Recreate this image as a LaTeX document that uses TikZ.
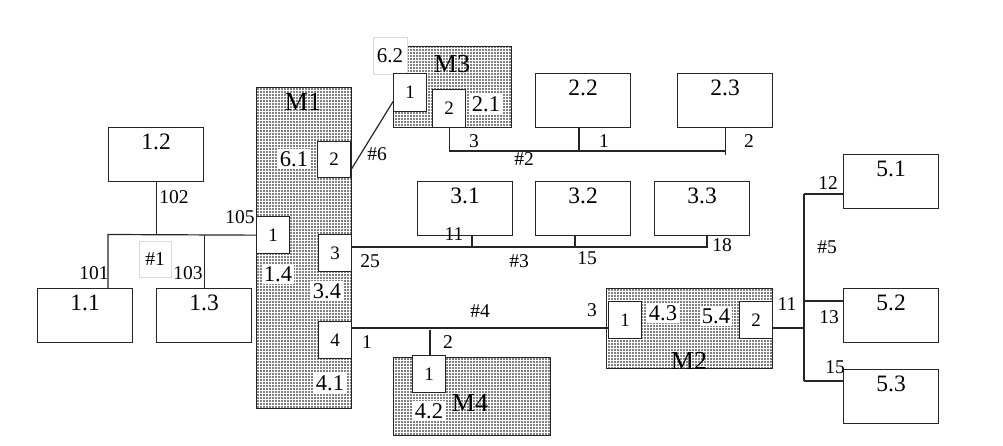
\documentclass[tikz,border=0pt]{standalone}
\usepackage{fontspec}
\setmainfont{Liberation Serif}
\usetikzlibrary{patterns.meta}
\begin{document}
\begin{tikzpicture}[x=1pt,y=-1pt,
  box/.style={draw=black!85, line width=1.3pt, fill=white, minimum width=95pt, minimum height=54pt, inner sep=0pt, anchor=north west},
  mod/.style={draw=black!85, line width=1.3pt, pattern={Dots[distance=3pt,radius=0.8pt]}, pattern color=black, inner sep=0pt, anchor=north west},
  port/.style={draw=black!85, line width=1.3pt, fill=white, minimum width=33pt, minimum height=37pt, inner sep=0pt, anchor=north west, font=\fontsize{19}{19}\selectfont},
  side/.style={fill=white, inner sep=2pt, font=\fontsize{22.5}{22.5}\selectfont},
  mlab/.style={inner sep=0pt, font=\fontsize{26}{26}\selectfont},
  num/.style={inner sep=0pt, font=\fontsize{19.5}{19.5}\selectfont},
  gbox/.style={draw=black!15, line width=0.6pt, fill=white, inner sep=0pt, font=\fontsize{21}{21}\selectfont},
  wire/.style={draw=black!85, line width=1.2pt},
  bl/.style={label={[anchor=north, yshift=-3pt, font=\fontsize{23.5}{23.5}\selectfont]north:#1}}
]
\useasboundingbox (0,0) rectangle (1003,446);
% modules
\node[mod, minimum width=95pt, minimum height=321pt] (M1) at (256,87) {};
\node[mod, minimum width=118pt, minimum height=81pt] (M3) at (393,46) {};
\node[mod, minimum width=157pt, minimum height=78pt] (M4) at (393,357) {};
\node[mod, minimum width=166pt, minimum height=80pt] (M2) at (606,288) {};
\node[mlab] (M1t) at (303,102) {M1};
\node[mlab] (M3t) at (452,64) {M3};
\node[mlab] (M4t) at (470,403) {M4};
\node[mlab] (M2t) at (689,361) {M2};
% side labels
\node[side] (l61) at (294,159) {6.1};
\node[side] (l14) at (278,274) {1.4};
\node[side] (l34) at (327,291) {3.4};
\node[side] (l41) at (330,383) {4.1};
\node[side] (l21) at (486,104) {2.1};
\node[side] (l42) at (429,411) {4.2};
\node[side] (l43) at (663,313) {4.3};
\node[side] (l54) at (716,316) {5.4};
\node[gbox, minimum width=34pt, minimum height=37pt] (l62) at (390,55.5) {6.2};
% ports
\node[port] (p14) at (256,216) {1};
\node[port, minimum height=36pt] (p61) at (317,141) {2};
\node[port] (p34) at (318,234) {3};
\node[port] (p41) at (318,321) {4};
\node[port, minimum height=38pt] (p62) at (393,73) {1};
\node[port, minimum height=38pt] (p21) at (432,89) {2};
\node[port] (p42) at (412,355) {1};
\node[port] (p43) at (608,301) {1};
\node[port] (p54) at (739,301) {2};
% boxes
\node[box, bl=1.2] (b12) at (108,127) {};
\node[box, bl=1.1] (b11) at (37,288) {};
\node[box, bl=1.3] (b13) at (156,288) {};
\node[box, bl=2.2] (b22) at (535,73) {};
\node[box, bl=2.3] (b23) at (677,73) {};
\node[box, bl=3.1] (b31) at (417,181) {};
\node[box, bl=3.2] (b32) at (535,181) {};
\node[box, bl=3.3] (b33) at (654,181) {};
\node[box, bl=5.1] (b51) at (843,154) {};
\node[box, bl=5.2] (b52) at (843,288) {};
\node[box, bl=5.3] (b53) at (843,369) {};
% helper coordinates
\coordinate (j1) at (108,234.5);
\coordinate (y2) at (0,151);
\coordinate (x22) at (579,0);
\coordinate (y3) at (0,247);
\coordinate (x31) at (472,0);
\coordinate (x32) at (575,0);
\coordinate (x33) at (707,0);
\coordinate (y4) at (0,328);
\coordinate (x4) at (430,0);
\coordinate (x5) at (804,0);
\coordinate (y51) at (0,194);
\coordinate (y52) at (0,301);
\coordinate (y53) at (0,381);
% bus #1
\draw[wire] (p14.west) -- (j1) -- (j1 |- b11.north);
\draw[wire] (b12.south) -- (b12.south |- p14.west);
\draw[wire] (b13.north) -- (b13.north |- p14.west);
% bus #6
\draw[wire] ([yshift=9pt]p61.south east) -- ([yshift=-9pt]p62.west);
% bus #2
\draw[wire] (p21.south) -- (p21.south |- y2) -- (b23.south |- y2);
\draw[wire] (b23.south) -- ++(0,27);
\draw[wire] (x22 |- b22.south) -- (x22 |- y2);
% bus #3
\draw[wire] (p34.east |- y3) -- (x33 |- y3) -- (x33 |- b33.south);
\draw[wire] (x31 |- b31.south) -- (x31 |- y3);
\draw[wire] (x32 |- b32.south) -- (x32 |- y3);
% bus #4
\draw[wire] (p41.east |- y4) -- (p43.west |- y4);
\draw[wire] (x4 |- p42.north) -- ([yshift=-2pt]x4 |- y4);
% bus #5
\draw[wire] (p54.east |- y4) -- (x5 |- y4);
\draw[wire] (x5 |- y51) -- (x5 |- y53);
\draw[wire] (x5 |- y51) -- (b51.west |- y51);
\draw[wire] (x5 |- y52) -- (b52.west |- y52);
\draw[wire] (x5 |- y53) -- (b53.west |- y53);
% numbers
\node[num] (n102) at (174,197) {102};
\node[num] (n105) at (240,217) {105};
\node[gbox, minimum width=32pt, minimum height=36pt, text depth=0pt, font=\fontsize{19.5}{19.5}\selectfont] (n1) at (155,259) {\#1};
\node[num] (n101) at (94,273) {101};
\node[num] (n103) at (188,273) {103};
\node[num] (n6) at (377,154) {\#6};
\node[num] (n2a) at (474,141) {3};
\node[num] (n2b) at (604,141) {1};
\node[num] (n2c) at (749,141) {2};
\node[num] (n2) at (524,159) {\#2};
\node[num] (n3a) at (454,234) {11};
\node[num] (n3b) at (587,258) {15};
\node[num] (n3c) at (722,245) {18};
\node[num] (n3d) at (370,261) {25};
\node[num] (n3) at (519,261) {\#3};
\node[num] (n4a) at (367,342) {1};
\node[num] (n4b) at (448,342) {2};
\node[num] (n4) at (480,311) {\#4};
\node[num] (n4c) at (592,310) {3};
\node[num] (n5a) at (828,183) {12};
\node[num] (n5) at (827,247) {\#5};
\node[num] (n5b) at (787,304) {11};
\node[num] (n5c) at (829,317) {13};
\node[num] (n5d) at (835,367) {15};
\end{tikzpicture}
\end{document}
